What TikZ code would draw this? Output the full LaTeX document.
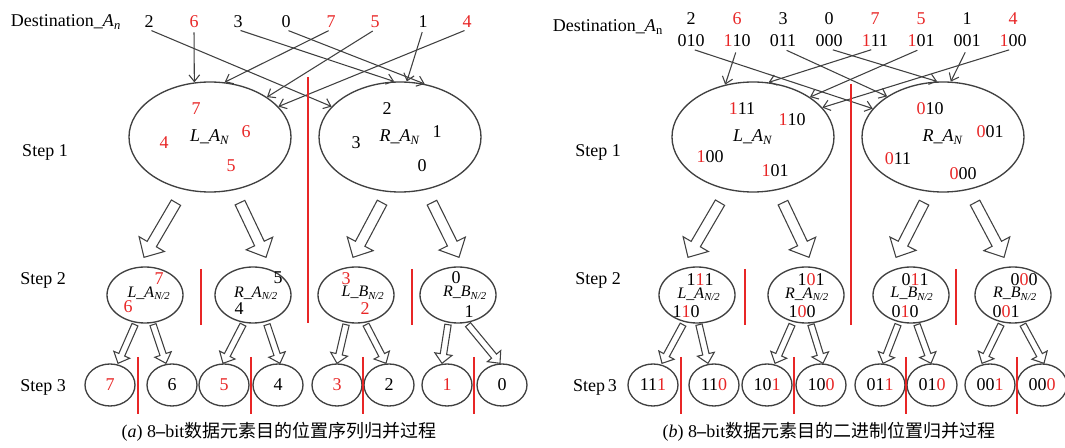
\documentclass[tikz,border=0pt]{standalone}
\usepackage{fontspec}
\setmainfont{Liberation Serif}
\newfontfamily\cjk{Noto Sans CJK SC}
\usetikzlibrary{positioning,shapes,calc,arrows.meta}
\definecolor{linegray}{RGB}{64,64,64}
\definecolor{markred}{RGB}{232,38,38}
\newcommand{\rd}[1]{\textcolor{markred}{#1}}
% hollow block arrow from #1 to #2: shaft half width, head half width, head length
\newcommand{\blockarrow}[5]{%
  \coordinate (bh) at ($(#2)!#5!(#1)$);
  \draw[fatline] ($(#1)!#3!90:(#2)$) -- ($(bh)!#3!90:(#2)$) -- ($(bh)!#4!90:(#2)$) -- (#2)
    -- ($(bh)!#4!-90:(#2)$) -- ($(bh)!#3!-90:(#2)$) -- ($(#1)!#3!-90:(#2)$) -- cycle;}
\newcommand{\bigarrow}[2]{\blockarrow{#1}{#2}{4pt}{11pt}{11.5pt}}
\newcommand{\smallarrow}[2]{\blockarrow{#1}{#2}{2.4pt}{6.5pt}{7pt}}

\begin{document}
\begin{tikzpicture}[x=0.75pt, y=-0.75pt, font=\fontsize{13.5}{16}\selectfont,
    every node/.style={inner sep=1pt},
    bigell/.style={ellipse, draw=linegray, line width=1pt, minimum width=121.5pt, minimum height=82.5pt},
    midell/.style={ellipse, draw=linegray, line width=1pt, minimum width=57pt, minimum height=42pt, inner sep=0pt},
    smallell/.style={ellipse, draw=linegray, line width=1pt, minimum width=37.5pt, minimum height=31.5pt, inner sep=0pt},
    sub/.style={font=\fontsize{12}{14}\selectfont},
    divider/.style={markred, line width=1.5pt},
    pointer/.style={linegray, line width=0.8pt, -{Straight Barb[length=5pt,width=8pt]}},
    fatline/.style={draw=linegray, line width=0.8pt, fill=white, line join=miter}]
\useasboundingbox (0,0) rectangle (1065,448);

%% (a) position sequence
\node (desta) at (66,22) {Destination\_\textit{A}\textsubscript{\textit{n}}};
\foreach \v/\x/\c [count=\i] in {2/149/black,6/194/markred,3/238/black,0/286/black,7/331/markred,5/375/markred,1/423/black,4/467/markred}
  \node[text=\c] (ta\i) at (\x,22) {\v};

\node (st1a) at (45,152) {Step 1};
\node (st2a) at (43,280) {Step 2};
\node (st3a) at (43,387) {Step 3};

% step 1
\node[bigell] (LA) at (210,137) {\textit{L\_A}\textsubscript{\textit{N}}};
\node[bigell] (RA) at (400,137) {\textit{R\_A}\textsubscript{\textit{N}}};
\foreach \v/\x/\y/\c [count=\i] in {7/196/109/markred,4/164/143/markred,6/246/132/markred,5/231/166/markred,
    2/387/109/black,3/356/143/black,1/437/132/black,0/422/166/black}
  \node[text=\c] (na\i) at (\x,\y) {\v};

\foreach \i/\e in {1/RA.156,2/LA.106,3/RA.96,4/RA.65,5/LA.75,6/LA.35,7/RA.83,8/LA.24}
  \draw[pointer, shorten <=2pt] (ta\i.south) -- (\e);

% step 2
\foreach \x [count=\i] in {145,253,356,458}
  \node[midell] (s2a\i) at (\x,295) {};
\node[sub] (la1) at (149,293) {\textit{L\_A}\textsubscript{\textit{N/2}}};
\node[sub] (la2) at (256,293) {\textit{R\_A}\textsubscript{\textit{N/2}}};
\node[sub] (la3) at (363,293) {\textit{L\_B}\textsubscript{\textit{N/2}}};
\node[sub] (la4) at (465,293) {\textit{R\_B}\textsubscript{\textit{N/2}}};
\foreach \v/\x/\y/\c [count=\i] in {7/159/279/markred,6/128/307/markred,5/278/278/black,4/239/309/black,
    3/346/279/markred,2/365/309/markred,0/456/278/black,1/469/312/black}
  \node[text=\c] (ma\i) at (\x,\y) {\v};

% step 3
\foreach \v/\x/\c [count=\i] in {7/110/markred,6/172/black,5/224/markred,4/278/black,3/337/markred,2/389/black,1/447/markred,0/502/black}
  \node[smallell, text=\c] (s3a\i) at (\x,385) {\v};

%% (b) binary positions
\node (destb) at (608,27) {Destination\_\textit{A}\textsubscript{n}};
\foreach \v/\b/\x/\c [count=\i] in {2/010/691/black,6/\rd{1}10/737/markred,3/011/783/black,0/000/829/black,
    7/\rd{1}11/875/markred,5/\rd{1}01/921/markred,1/001/967/black,4/\rd{1}00/1013/markred}{
  \node[text=\c] (tb\i) at (\x,19) {\v};
  \node (bb\i) at (\x,41) {\b};
}

\node (st1b) at (598,152) {Step 1};
\node (st2b) at (598,280) {Step 2};
\node (st3b) at (595,387) {Step\,3};

% step 1
\node[bigell] (LB) at (753,137) {\textit{L\_A}\textsubscript{\textit{N}}};
\node[bigell] (RB) at (943,137) {\textit{R\_A}\textsubscript{\textit{N}}};
\foreach \v/\x/\y [count=\i] in {\rd{1}11/742/109,\rd{1}10/792/120,\rd{1}00/710/157,\rd{1}01/775/171,
    \rd{0}10/930/109,\rd{0}01/990/132,\rd{0}11/898/159,\rd{0}00/963/174}
  \node (nb\i) at (\x,\y) {\v};

\foreach \i/\e in {1/RB.158,2/LB.118,3/RB.144,4/RB.96,5/LB.74,6/LB.35,7/RB.82,8/LB.23}
  \draw[pointer, shorten <=3pt] (bb\i.south) -- (\e);

% step 2
\foreach \x [count=\i] in {697,806,911,1013}
  \node[midell] (s2b\i) at (\x,295) {};
\node[sub] (lb1) at (699,294) {\textit{L\_A}\textsubscript{\textit{N/2}}};
\node[sub] (lb2) at (807,294) {\textit{R\_A}\textsubscript{\textit{N/2}}};
\node[sub] (lb3) at (912,294) {\textit{L\_B}\textsubscript{\textit{N/2}}};
\node[sub] (lb4) at (1015,294) {\textit{R\_B}\textsubscript{\textit{N/2}}};
\foreach \v/\x/\y [count=\i] in {1\rd{1}1/700/280,1\rd{1}0/686/312,1\rd{0}1/811/280,1\rd{0}0/802/312,
    0\rd{1}1/915/280,0\rd{1}0/905/312,0\rd{0}0/1024/280,0\rd{0}1/1006/312}
  \node (mb\i) at (\x,\y) {\v};

% step 3
\foreach \v/\x [count=\i] in {11\rd{1}/653,11\rd{0}/714,10\rd{1}/767,10\rd{0}/821,01\rd{1}/880,01\rd{0}/932,00\rd{1}/990,00\rd{0}/1042}
  \node[smallell] (s3b\i) at (\x,385) {\v};

%% hollow arrows between the steps
\foreach \s/\sx/\t/\tx [count=\k] in {LA/-34/s2a1/-1, LA/30/s2a2/13, RA/-18/s2a3/-3, RA/32/s2a4/1,
    LB/-33/s2b1/-9, LB/30/s2b2/3, RB/-19/s2b3/-15, RB/32/s2b4/-9}{
  \coordinate (bt\k) at ($(\s.south)+(\sx,10)$);
  \coordinate (bp\k) at ($(\t.north)+(\tx,-9)$);
  \bigarrow{bt\k}{bp\k}
}
\foreach \s/\sx/\t/\tx [count=\k] in {s2a1/-10/s3a1/8, s2a1/8/s3a2/-6, s2a2/-10/s3a3/-1, s2a2/14/s3a4/2,
    s2a3/-10/s3a5/0, s2a3/10/s3a6/-3, s2a4/-10/s3a7/-5, s2a4/10/s3a8/-2,
    s2b1/-14/s3b1/9, s2b1/2/s3b2/-6, s2b2/-14/s3b3/8, s2b2/5/s3b4/2,
    s2b3/-13/s3b5/3, s2b3/6/s3b6/-1, s2b4/-12/s3b7/-8, s2b4/10/s3b8/2}{
  \coordinate (sa\k) at ($(\s.south)+(\sx,1)$);
  \coordinate (sb\k) at ($(\t.north)+(\tx,0)$);
  \smallarrow{sa\k}{sb\k}
}

%% red dividers
\draw[divider] (308,77) -- (308,323);
\draw[divider] (851,84) -- (851,325);
\foreach \x in {201,412,745,956}
  \draw[divider] (\x,269) -- (\x,325);
\foreach \x in {138,251,363,474,681,794,906,1017}
  \draw[divider] (\x,357) -- (\x,414);

%% captions
\node (capa) at (279,432) {(\textit{a}) 8\textbf{–}bit{\cjk 数据元素目的位置序列归并过程}};
\node (capb) at (829,432) {(\textit{b}) 8\textbf{–}bit{\cjk 数据元素目的二进制位置归并过程}};
\end{tikzpicture}
\end{document}
